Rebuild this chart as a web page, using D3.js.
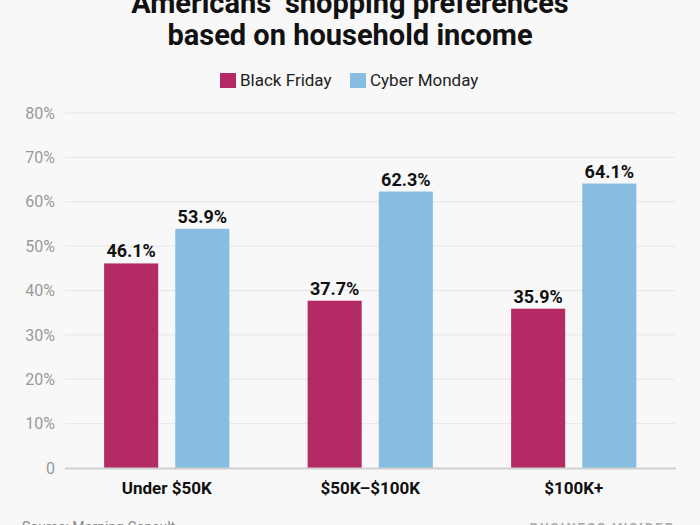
<!DOCTYPE html>
<html><head><meta charset="utf-8">
<script src="https://cdn.jsdelivr.net/npm/d3@7"></script>
<style>body{margin:0;background:#f8f8f8;}svg{display:block;font-family:Roboto,"Noto Sans",sans-serif;}</style>
</head><body>
<svg id="c" width="700" height="525"></svg>
<script>
const categories = ["Under $50K", "$50K\u2013$100K", "$100K+"];
const seriesNames = ["Black Friday", "Cyber Monday"];
const blackFriday = [46.1, 37.7, 35.9];
const cyberMonday = [53.9, 62.3, 64.1];
const yTicks = [0, 10, 20, 30, 40, 50, 60, 70, 80];
const colors = ["#b42a64", "#86bde1"];

const svg = d3.select("#c");
svg.append("rect").attr("width",700).attr("height",525).attr("fill","#f8f8f8");

const x0 = d3.scaleBand().domain(categories).range([65, 675.5]).paddingInner(0).paddingOuter(0);
const x1 = d3.scaleBand().domain(seriesNames).range([0, x0.bandwidth()]).paddingInner(0.24).paddingOuter(0.55);
const y = d3.scaleLinear().domain([0, 80]).range([468, 113]);

// title
const title = svg.append("text").attr("text-anchor","middle").attr("font-weight","bold").attr("font-size",29).attr("fill","#111");
title.append("tspan").attr("x",350).attr("y",13).text("Americans\u2019 shopping preferences");
title.append("tspan").attr("x",350).attr("y",45).text("based on household income");

// legend
const legend = [{n:seriesNames[0],x:220},{n:seriesNames[1],x:350}];
legend.forEach((l,i)=>{
  svg.append("rect").attr("x",l.x).attr("y",73).attr("width",16).attr("height",15).attr("fill",colors[i]);
  svg.append("text").attr("x",l.x+20).attr("y",86).attr("font-size",17).attr("fill","#222").text(l.n);
});

// grid
svg.append("g").selectAll("line").data(yTicks.filter(d=>d>0)).join("line")
  .attr("x1",65).attr("x2",675).attr("y1",d=>y(d)).attr("y2",d=>y(d))
  .attr("stroke","#e6e6e6").attr("stroke-width",1);

// y axis
const yAxis = d3.axisLeft(y).tickValues(yTicks).tickSize(0).tickPadding(10)
  .tickFormat(d=>d===0?"0":d+"%");
const gy = svg.append("g").attr("transform","translate(65,0)").call(yAxis);
gy.select(".domain").remove();
gy.selectAll("text").attr("font-size",16).attr("fill","#999").attr("font-family","Roboto,sans-serif");

// bars
const data = categories.map((c,i)=>({c, vals:[blackFriday[i], cyberMonday[i]]}));
const groups = svg.append("g").selectAll("g").data(data).join("g")
  .attr("transform",d=>`translate(${x0(d.c)},0)`);
groups.selectAll("rect").data(d=>d.vals.map((v,i)=>({v,s:seriesNames[i],i}))).join("rect")
  .attr("x",d=>x1(d.s)).attr("width",x1.bandwidth())
  .attr("y",d=>y(d.v)).attr("height",d=>y(0)-y(d.v)).attr("fill",d=>colors[d.i]);
groups.selectAll("text").data(d=>d.vals.map((v,i)=>({v,s:seriesNames[i]}))).join("text")
  .attr("x",d=>x1(d.s)+x1.bandwidth()/2).attr("y",d=>y(d.v)-6)
  .attr("text-anchor","middle").attr("font-weight","bold").attr("font-size",18).attr("fill","#111")
  .text(d=>d.v.toFixed(1)+"%");

// baseline
svg.append("line").attr("x1",65).attr("x2",676).attr("y1",y(0)+0.5).attr("y2",y(0)+0.5)
  .attr("stroke","#d0d0d0").attr("stroke-width",2);

// x axis
const xAxis = d3.axisBottom(x0).tickSize(0).tickPadding(14);
const gx = svg.append("g").attr("transform",`translate(0,${y(0)})`).call(xAxis);
gx.select(".domain").remove();
gx.selectAll("text").attr("font-size",17).attr("font-weight","bold").attr("fill","#111").attr("font-family","Roboto,sans-serif");

// footer
svg.append("text").attr("x",22).attr("y",532).attr("font-size",14).attr("fill","#888").text("Source: Morning Consult");
svg.append("text").attr("x",675).attr("y",532).attr("text-anchor","end").attr("font-size",13).attr("letter-spacing",2).attr("font-weight","bold").attr("fill","#aaa").text("BUSINESS INSIDER");
</script>
</body></html>
